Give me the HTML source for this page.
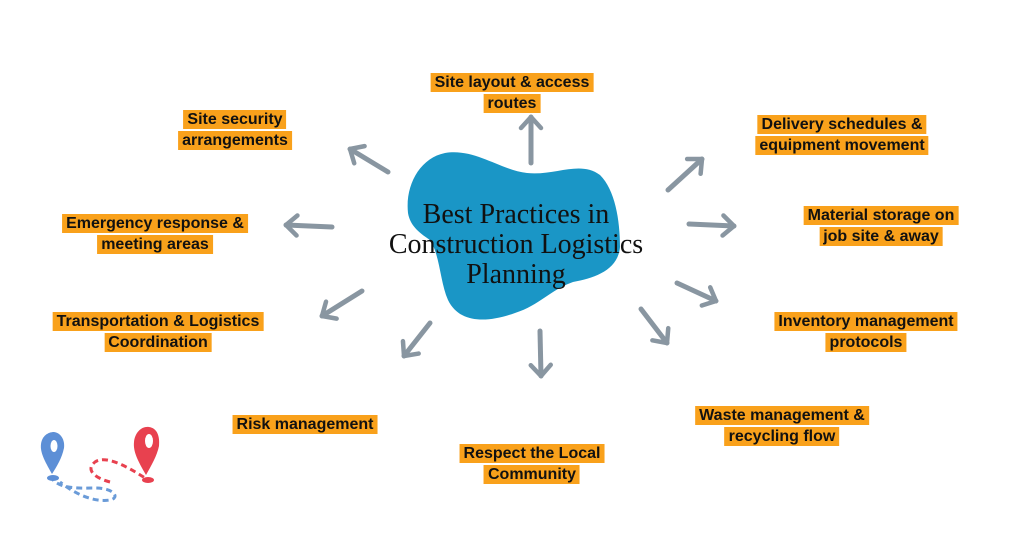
<!DOCTYPE html><html><head><style>
body{margin:0;width:1024px;height:538px;background:#fff;position:relative;overflow:hidden;font-family:"Liberation Sans",sans-serif}
.l{position:absolute;text-align:center;font-weight:bold;font-size:16px;line-height:21px;color:#111;white-space:nowrap;transform:translateX(-50%)}
.l span{background:#f9a11b;padding:1px 4px;box-decoration-break:clone;-webkit-box-decoration-break:clone}
.t{position:absolute;left:516px;top:200px;transform:translateX(-50%);font-family:"Liberation Serif",serif;font-size:28px;line-height:30px;text-align:center;white-space:nowrap;color:#111}
</style></head><body>
<svg width="1024" height="538" style="position:absolute;left:0;top:0">
<defs><marker id="a" markerWidth="6" markerHeight="6" refX="3.2" refY="3" orient="auto" markerUnits="strokeWidth"><path d="M1,1 L3.2,3 L1,5" fill="none" stroke="#8996a1" stroke-width="0.9" stroke-linecap="round" stroke-linejoin="round"/></marker></defs>
<path d="M408,213 C405,185 420,158 445,153 C475,148 500,170 527,173 C555,176 580,160 600,175 C615,190 620,220 620,247 C618,270 595,278 573,282 C550,290 540,305 515,313 C490,322 460,325 448,300 C440,282 440,255 430,240 C418,232 410,225 408,213 Z" fill="#1a96c6"/>
<g stroke="#8996a1" stroke-width="5" stroke-linecap="round" fill="none" marker-end="url(#a)">
<line x1="531" y1="163" x2="531" y2="117"/>
<line x1="388" y1="172" x2="350" y2="149"/>
<line x1="668" y1="190" x2="702" y2="159"/>
<line x1="689" y1="224" x2="734" y2="226"/>
<line x1="332" y1="227" x2="286" y2="225"/>
<line x1="362" y1="291" x2="322" y2="316"/>
<line x1="677" y1="283" x2="716" y2="301"/>
<line x1="641" y1="309" x2="667" y2="343"/>
<line x1="430" y1="323" x2="404" y2="356"/>
<line x1="540" y1="331" x2="541" y2="376"/>
</g>
<g>
<path d="M50,476 C58,490 80,488 95,488 C115,488 120,498 110,500 C90,503 70,490 60,482" fill="none" stroke="#6a9bd8" stroke-width="3" stroke-dasharray="6,4"/>
<path d="M110,482 C95,478 85,470 95,462 C105,455 125,465 145,478" fill="none" stroke="#e8414f" stroke-width="3" stroke-dasharray="6,4"/>
<ellipse cx="53" cy="478" rx="6" ry="3" fill="#5d8fd6"/>
<ellipse cx="148" cy="480" rx="6" ry="3" fill="#e8414f"/>
<path d="M52,474 C44,460 40,452 41,444 C42,436 48,432 54,432 C61,433 65,440 64,448 C62,458 57,466 52,474Z" fill="#5d8fd6"/>
<ellipse cx="54" cy="446" rx="3.5" ry="6" fill="#fff"/>
<path d="M146,475 C138,461 133,452 134,442 C135,432 142,426 149,427 C157,428 160,436 159,446 C157,456 151,466 146,475Z" fill="#e8414f"/>
<ellipse cx="149" cy="441" rx="4" ry="7" fill="#fff"/>
</g>
</svg>
<div class="t">Best Practices in<br>Construction Logistics<br>Planning</div>
<div class="l" style="left:512px;top:72px"><span>Site layout &amp; access<br>routes</span></div>
<div class="l" style="left:235px;top:109px"><span>Site security<br>arrangements</span></div>
<div class="l" style="left:842px;top:114px"><span>Delivery schedules &amp;<br>equipment movement</span></div>
<div class="l" style="left:881px;top:205px"><span>Material storage on<br>job site &amp; away</span></div>
<div class="l" style="left:155px;top:213px"><span>Emergency response &amp;<br>meeting areas</span></div>
<div class="l" style="left:158px;top:311px"><span>Transportation &amp; Logistics<br>Coordination</span></div>
<div class="l" style="left:866px;top:311px"><span>Inventory management<br>protocols</span></div>
<div class="l" style="left:305px;top:414px"><span>Risk management</span></div>
<div class="l" style="left:782px;top:405px"><span>Waste management &amp;<br>recycling flow</span></div>
<div class="l" style="left:532px;top:443px"><span>Respect the Local<br>Community</span></div>
</body></html>
